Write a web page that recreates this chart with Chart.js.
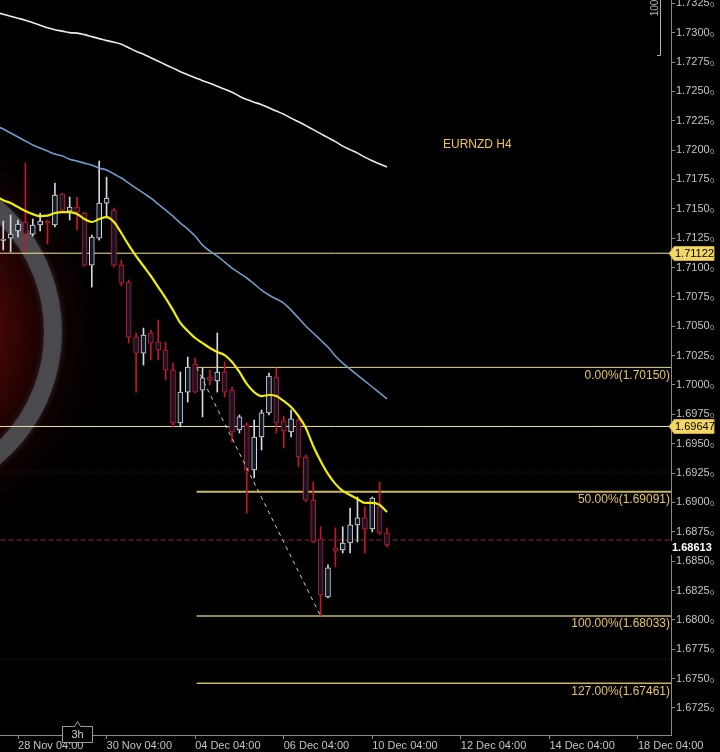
<!DOCTYPE html>
<html><head><meta charset="utf-8">
<script src="https://cdn.jsdelivr.net/npm/chart.js@4.4.1/dist/chart.umd.min.js"></script>
<style>html,body{margin:0;padding:0;background:#000;}#wrap{width:720px;height:752px;position:relative;}</style>
</head><body><div id="wrap"><canvas id="c" width="720" height="752"></canvas></div>
<script>
const FONT = "'Liberation Sans', Arial, sans-serif";
const chartTitle = 'EURNZD H4';
const firstCandle = -2;   // candle index of first OHLC entry (0 = 28 Nov 04:00)
const firstMA = -3;       // candle index of first moving-average entry
const opens  = [1.71230,1.71251,1.71311,1.71388,1.71285,1.71362,1.71396,1.71362,1.71625,1.71481,1.71515,1.71464,1.71021,1.71251,1.71549,1.71489,1.71021,1.70877,1.70408,1.70272,1.70443,1.70366,1.70298,1.70128,1.69677,1.69940,1.70179,1.69957,1.70068,1.70034,1.70111,1.69957,1.69617,1.69660,1.69277,1.69557,1.69762,1.70068,1.69694,1.69600,1.69702,1.69387,1.69021,1.68689,1.68196,1.68613,1.68596,1.68655,1.68809,1.68868,1.68775,1.68962,1.68740];
const highs  = [1.71396,1.71447,1.71405,1.71890,1.71413,1.71464,1.71405,1.71719,1.71634,1.71600,1.71600,1.71472,1.71277,1.71907,1.71770,1.71506,1.71064,1.70894,1.70443,1.70485,1.70468,1.70553,1.70366,1.70187,1.70111,1.70238,1.70230,1.70145,1.70128,1.70443,1.70196,1.69983,1.69745,1.69677,1.69702,1.69787,1.70102,1.70145,1.69736,1.69787,1.69719,1.69404,1.69174,1.68792,1.68468,1.68783,1.68792,1.68953,1.69047,1.68962,1.69047,1.69174,1.68783];
const lows   = [1.71149,1.71132,1.71260,1.71132,1.71268,1.71311,1.71200,1.71345,1.71472,1.71405,1.71319,1.71013,1.70834,1.71234,1.71430,1.71004,1.70843,1.70357,1.69940,1.70170,1.70213,1.70213,1.70043,1.69643,1.69643,1.69855,1.69932,1.69728,1.70000,1.69940,1.69898,1.69515,1.69591,1.68911,1.69209,1.69447,1.69745,1.69591,1.69464,1.69557,1.69302,1.69004,1.68655,1.68033,1.68187,1.68451,1.68570,1.68570,1.68664,1.68570,1.68749,1.68724,1.68621];
const closes = [1.71243,1.71285,1.71370,1.71285,1.71362,1.71396,1.71379,1.71617,1.71489,1.71515,1.71472,1.71021,1.71260,1.71549,1.71591,1.71021,1.70868,1.70408,1.70272,1.70426,1.70357,1.70298,1.70128,1.69677,1.69940,1.70153,1.69940,1.70060,1.70043,1.70111,1.69940,1.69600,1.69728,1.69277,1.69557,1.69762,1.70077,1.69677,1.69609,1.69711,1.69387,1.69021,1.68664,1.68213,1.68443,1.68587,1.68655,1.68809,1.68868,1.68775,1.69038,1.68740,1.68638];
const emaFast = [1.71608,1.71574,1.71549,1.71515,1.71481,1.71455,1.71438,1.71442,1.71464,1.71472,1.71472,1.71455,1.71413,1.71388,1.71413,1.71430,1.71388,1.71294,1.71191,1.71098,1.71013,1.70928,1.70834,1.70740,1.70638,1.70528,1.70460,1.70400,1.70357,1.70315,1.70281,1.70255,1.70196,1.70111,1.70009,1.69940,1.69906,1.69915,1.69906,1.69864,1.69813,1.69736,1.69634,1.69481,1.69353,1.69243,1.69158,1.69098,1.69064,1.69030,1.68996,1.68996,1.68979,1.68919];
const maMid   = [1.72204,1.72179,1.72145,1.72111,1.72077,1.72043,1.72017,1.71992,1.71966,1.71949,1.71923,1.71906,1.71889,1.71872,1.71847,1.71830,1.71796,1.71762,1.71719,1.71676,1.71634,1.71591,1.71540,1.71489,1.71438,1.71379,1.71328,1.71268,1.71191,1.71140,1.71098,1.71047,1.70996,1.70953,1.70911,1.70860,1.70808,1.70766,1.70732,1.70698,1.70638,1.70570,1.70502,1.70443,1.70383,1.70323,1.70247,1.70187,1.70136,1.70085,1.70034,1.69983,1.69932,1.69881];
const maSlow  = [1.73174,1.73157,1.73140,1.73123,1.73106,1.73085,1.73064,1.73042,1.73025,1.73013,1.73000,1.72996,1.72983,1.72966,1.72949,1.72932,1.72919,1.72902,1.72872,1.72842,1.72817,1.72787,1.72757,1.72727,1.72698,1.72668,1.72642,1.72617,1.72591,1.72570,1.72544,1.72519,1.72493,1.72459,1.72430,1.72408,1.72387,1.72361,1.72332,1.72306,1.72272,1.72242,1.72208,1.72174,1.72140,1.72106,1.72072,1.72034,1.72004,1.71974,1.71940,1.71910,1.71881,1.71856];
const xTickIndex  = [0,12,24,36,48,60,72,84];
const xTickLabels = ['28 Nov 04:00','30 Nov 04:00','04 Dec 04:00','06 Dec 04:00','10 Dec 04:00','12 Dec 04:00','14 Dec 04:00','18 Dec 04:00'];
const yTickValues = [1.6725,1.6750,1.6775,1.6800,1.6825,1.6850,1.6875,1.6900,1.6925,1.6950,1.6975,1.7000,1.7025,1.7050,1.7075,1.7100,1.7125,1.7150,1.7175,1.7200,1.7225,1.7250,1.7275,1.7300,1.7325];
const xRange = [-2.44, 88.48];
const yRange = [1.67020, 1.73278];
const keyLevels = [1.71122, 1.69647];
const fibLabels = ['0.00%','50.00%','100.00%','127.00%'];
const fibPrices = [1.70150, 1.69091, 1.68033, 1.67461];
const fibAnchorIndex = [24.2, 41.0];
const fibAnchorPrice = [1.70150, 1.68033];
const dottedLevels = [1.69259, 1.67667];
const lastPriceLine = 1.68680;
const lastPriceLabel = '1.68613';

const UP = '#d4d8e0', DOWN = '#c8142c';
const isUp = opens.map((o,k)=> closes[k] >= o);
const candleColors = isUp.map(u => u ? UP : DOWN);
const hLine = (y, x0, x1) => [{x:x0,y:y},{x:x1,y:y}];

const datasets = [];
keyLevels.forEach(v => datasets.push({type:'line', data:hLine(v, xRange[0]-1, xRange[1]+1), borderColor:'#f2e49a', borderWidth:1, pointRadius:0, order:20}));
fibPrices.forEach((v,k) => datasets.push({type:'line', data:hLine(v, fibAnchorIndex[0], xRange[1]+1), borderColor: k===0 ? '#eadb8e' : '#c9b85c', borderWidth: k===0 ? 1 : (k===1 ? 2 : 1.5), pointRadius:0, order:20}));
dottedLevels.forEach(v => datasets.push({type:'line', data:hLine(v, xRange[0]-1, xRange[1]+1), borderColor:'#7a1c1c', borderWidth:1, borderDash:[1,3], pointRadius:0, order:20}));
datasets.push({type:'line', data:hLine(lastPriceLine, xRange[0]-1, xRange[1]+1), borderColor:'#8e2a2a', borderWidth:1, borderDash:[5,3], pointRadius:0, order:20});
datasets.push({type:'bar', data: opens.map((_,k)=>({x:firstCandle+k, y:[lows[k], highs[k]]})), backgroundColor: candleColors, borderWidth:0, barThickness:1, grouped:false, order:12});
datasets.push({type:'bar', data: opens.map((o,k)=>({x:firstCandle+k, y:[o, closes[k]]})), backgroundColor:'#121828', borderColor: candleColors, borderWidth:1, borderSkipped:false, barThickness:5, grouped:false, order:11});
const maLine = (arr, color, w, ord) => ({type:'line', data: arr.map((v,k)=>({x:firstMA+k, y:v})), borderColor:color, borderWidth:w, pointRadius:0, cubicInterpolationMode:'monotone', order:ord});
datasets.push(maLine(maSlow, '#ececec', 1.6, 3));
datasets.push(maLine(maMid, '#6f9cca', 1.6, 2));
datasets.push(maLine(emaFast, '#f2ee00', 2.2, 1));
datasets.push({type:'line', data:[{x:fibAnchorIndex[0], y:fibAnchorPrice[0]},{x:fibAnchorIndex[1], y:fibAnchorPrice[1]}], borderColor:'#d9c9a0', borderWidth:1, borderDash:[4,4], pointRadius:0, order:0});

const decor = {
  id:'decor',
  beforeDraw(chart){ const c=chart.ctx; c.save(); c.fillStyle='#000'; c.fillRect(0,0,chart.width,chart.height); c.restore(); },
  beforeDatasetsDraw(chart){
    const c=chart.ctx, a=chart.chartArea;
    c.save(); c.beginPath(); c.rect(a.left,a.top,a.right-a.left,a.bottom-a.top); c.clip();
    const cx=a.left-110, cy=a.top+332;
    const g=c.createRadialGradient(cx,cy,0,cx,cy,160);
    g.addColorStop(0,'rgba(100,10,10,1)'); g.addColorStop(0.7,'rgba(62,6,6,1)'); g.addColorStop(0.92,'rgba(32,2,2,1)'); g.addColorStop(1,'rgba(12,0,0,1)');
    c.fillStyle=g; c.beginPath(); c.arc(cx,cy,160,0,Math.PI*2); c.fill();
    const h=c.createRadialGradient(cx,cy,160,cx,cy,240);
    h.addColorStop(0,'rgba(26,2,2,0.8)'); h.addColorStop(1,'rgba(0,0,0,0)');
    c.fillStyle=h; c.beginPath(); c.arc(cx,cy,240,0,Math.PI*2); c.arc(cx,cy,160,0,Math.PI*2,true); c.fill();
    c.strokeStyle='rgba(78,78,82,0.9)'; c.lineWidth=18; c.shadowColor='rgba(100,100,100,0.5)'; c.shadowBlur=6;
    c.beginPath(); c.arc(cx,cy,163,0,Math.PI*2); c.stroke();
    c.restore();
  },
  afterDatasetsDraw(chart){
    const c=chart.ctx, a=chart.chartArea, y=chart.scales.y;
    c.save();
    c.font='12px '+FONT; c.fillStyle='#e8c45c'; c.textAlign='right'; c.textBaseline='top';
    fibPrices.forEach((v,k)=>{ c.fillText(fibLabels[k]+'('+v.toFixed(5)+')', a.right-1, y.getPixelForValue(v)+2); });
    c.textAlign='left'; c.textBaseline='middle'; c.fillStyle='#f3c640';
    c.fillText(chartTitle, a.left+443, a.top+145);
    // scale bracket top-right
    c.strokeStyle='#b4b4b4'; c.lineWidth=1;
    c.beginPath(); c.moveTo(a.right-10.5, a.top); c.lineTo(a.right-10.5, a.top+55.5); c.lineTo(a.right-14, a.top+55.5); c.stroke();
    c.save(); c.translate(a.right-16, a.top+8); c.rotate(-Math.PI/2); c.font='10px '+FONT; c.fillStyle='#b4b4b4'; c.textAlign='center'; c.textBaseline='middle'; c.fillText('100',0,0); c.restore();
    c.restore();
  },
  afterDraw(chart){
    const c=chart.ctx, a=chart.chartArea, y=chart.scales.y;
    c.save();
    keyLevels.forEach(v=>{
      const py=Math.round(y.getPixelForValue(v))+0.5, x0=a.right+1;
      c.fillStyle='#f3d766'; c.strokeStyle='#c9a93c'; c.lineWidth=1;
      c.beginPath(); c.moveTo(x0-3,py); c.lineTo(x0+2,py-7); c.lineTo(x0+42,py-7); c.lineTo(x0+42,py+7); c.lineTo(x0+2,py+7); c.closePath(); c.fill(); c.stroke();
      c.fillStyle='#000'; c.font='11px '+FONT; c.textAlign='left'; c.textBaseline='middle'; c.fillText(v.toFixed(5), x0+3, py+0.5);
    });
    const lp=y.getPixelForValue(parseFloat(lastPriceLabel));
    c.fillStyle='#000'; c.fillRect(a.right-1, lp-7, 50, 14);
    c.fillStyle='#ffffff'; c.font='bold 11px '+FONT; c.textAlign='left'; c.textBaseline='middle'; c.fillText(lastPriceLabel, a.right+1, lp);
    // timeframe box
    const bx=a.left+62, by=a.bottom-9;
    c.fillStyle='#000'; c.strokeStyle='#a0a0a0'; c.lineWidth=1;
    c.beginPath(); c.moveTo(bx+0.5,by+0.5); c.lineTo(bx+12.5,by+0.5); c.lineTo(bx+15.5,by-4.5); c.lineTo(bx+18.5,by+0.5); c.lineTo(bx+30.5,by+0.5); c.lineTo(bx+30.5,by+16.5); c.lineTo(bx+0.5,by+16.5); c.closePath(); c.fill(); c.stroke();
    c.fillStyle='#d0d0d0'; c.font='11px '+FONT; c.textAlign='center'; c.textBaseline='middle'; c.fillText('3h', bx+15.5, by+9);
    c.restore();
  }
};

new Chart(document.getElementById('c'), {
  type:'bar',
  data:{datasets},
  plugins:[decor],
  options:{
    responsive:false, animation:false, devicePixelRatio:1,
    layout:{padding:0},
    plugins:{legend:{display:false}, tooltip:{enabled:false}},
    scales:{
      x:{type:'linear', min:xRange[0], max:xRange[1], offset:false, position:'bottom',
        afterBuildTicks(s){ s.ticks = xTickIndex.map(v=>({value:v})); },
        afterFit(s){ s.height=17; s.paddingLeft=0; s.paddingRight=0; },
        grid:{offset:false, drawOnChartArea:false, drawTicks:true, tickLength:4, color:'#8c8c8c'},
        border:{color:'#8c8c8c'},
        ticks:{autoSkip:false, maxRotation:0, align:'start', padding:0, color:'#c4c4c4', font:{family:FONT, size:11},
          callback:(v)=>{ const k=xTickIndex.indexOf(v); return k>=0 ? xTickLabels[k] : ''; }}
      },
      y:{type:'linear', position:'right', min:yRange[0], max:yRange[1],
        afterBuildTicks(s){ s.ticks = yTickValues.map(v=>({value:v})); },
        afterFit(s){ s.width=49; s.paddingTop=0; s.paddingBottom=0; },
        grid:{drawOnChartArea:false, drawTicks:true, tickLength:4, color:'#8c8c8c'},
        border:{color:'#8c8c8c'},
        ticks:{padding:1, color:'#c4c4c4', font:{family:FONT, size:11}, callback:(v)=> v.toFixed(4)+'\u2080'}
      }
    }
  }
});
</script></body></html>
